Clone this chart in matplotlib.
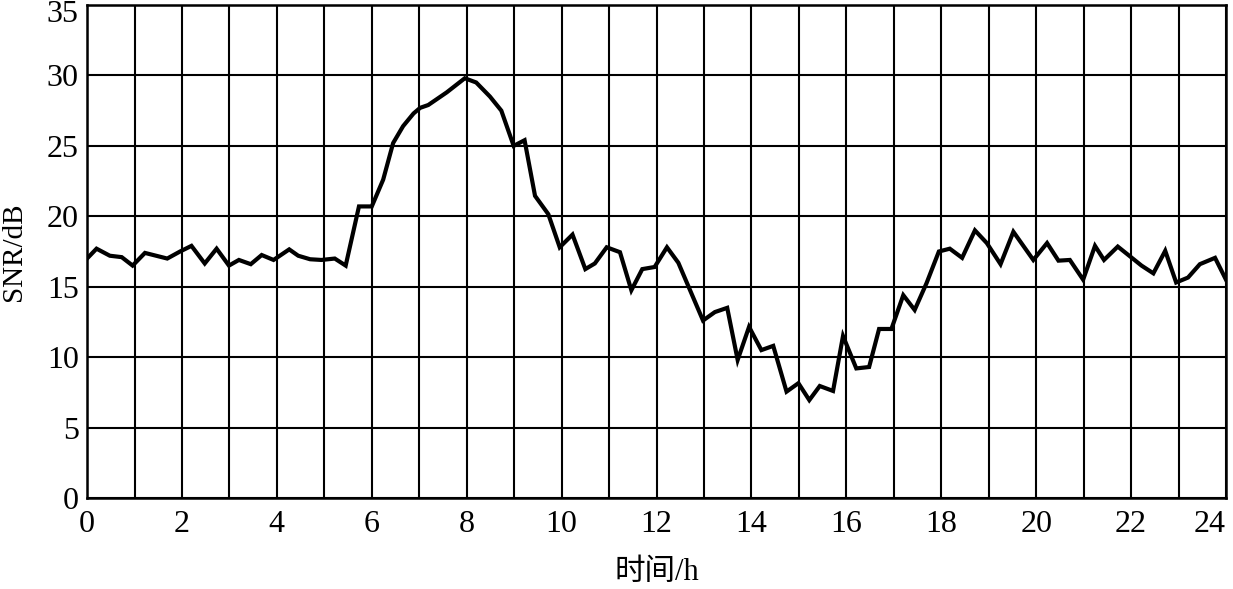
import numpy as np
import matplotlib.pyplot as plt
import matplotlib.transforms as mtransforms
from matplotlib.ticker import MultipleLocator

# vertices (hour, dB)
hours = [0.0, 0.20, 0.48, 0.73, 0.96, 1.22, 1.69, 1.96, 2.20, 2.48, 2.73, 2.99,
         3.20, 3.45, 3.68, 3.93, 4.26, 4.45, 4.70, 4.94, 5.22, 5.45, 5.73, 6.00,
         6.24, 6.45, 6.66, 6.88, 7.02, 7.19, 7.58, 7.96, 8.20, 8.49, 8.73, 8.99,
         9.22, 9.44, 9.72, 9.96, 10.23, 10.50, 10.70, 10.95, 11.23, 11.47, 11.70,
         11.96, 12.22, 12.46, 12.98, 13.23, 13.49, 13.71, 13.95, 14.21, 14.46,
         14.74, 14.99, 15.22, 15.44, 15.72, 15.93, 16.21, 16.48, 16.69, 16.95,
         17.20, 17.44, 17.69, 17.95, 18.18, 18.44, 18.71, 18.96, 19.25, 19.52,
         19.94, 20.23, 20.47, 20.71, 20.99, 21.24, 21.43, 21.72, 21.98, 22.22,
         22.47, 22.72, 22.95, 23.20, 23.45, 23.77, 24.0]
snr = [17.0, 17.7, 17.2, 17.1, 16.5, 17.4, 17.0, 17.5, 17.9, 16.65, 17.7, 16.5,
       16.9, 16.6, 17.25, 16.9, 17.65, 17.2, 16.95, 16.9, 17.0, 16.5, 20.7, 20.7,
       22.6, 25.2, 26.4, 27.3, 27.7, 27.9, 28.8, 29.8, 29.5, 28.5, 27.5, 25.0,
       25.4, 21.45, 20.15, 17.8, 18.7, 16.25, 16.65, 17.8, 17.45, 14.75, 16.25,
       16.4, 17.8, 16.7, 12.6, 13.2, 13.5, 9.8, 12.15, 10.5, 10.8,
       7.55, 8.15, 6.95, 7.95, 7.6, 11.5, 9.2, 9.3, 12.0, 12.0,
       14.4, 13.35, 15.25, 17.5, 17.7, 17.05, 19.0, 18.1, 16.6, 18.9,
       16.9, 18.1, 16.85, 16.9, 15.5, 17.9, 16.9, 17.85, 17.15, 16.5,
       15.95, 17.55, 15.3, 15.65, 16.6, 17.05, 15.5]
xticks = list(range(0, 25, 2))
yticks = list(range(0, 36, 5))

plt.rcParams['font.family'] = ['Liberation Serif', 'Noto Sans CJK SC']

fig = plt.figure(figsize=(12.33, 5.89), dpi=100)
ax = fig.add_axes([0.0706, 0.1545, 0.9237, 0.837])

ax.plot(hours, snr, color='black', linewidth=3.0, solid_joinstyle='miter')

ax.set_xlim(0, 24)
ax.set_ylim(0, 35)
ax.set_xticks(xticks)
ax.set_xticklabels([str(t) for t in xticks])
ax.set_yticks(yticks)
ax.set_yticklabels([str(t) for t in yticks])
ax.xaxis.set_minor_locator(MultipleLocator(1))
ax.grid(True, which='both', axis='x', color='black', linewidth=1.5)
ax.grid(True, which='major', axis='y', color='black', linewidth=1.5)
ax.tick_params(which='both', length=0, labelsize=23)
ax.tick_params(axis='x', pad=9)
ax.tick_params(axis='y', pad=6)
ax.get_xticklabels()[-1].set_horizontalalignment('right')
# top label sits a little lower so it stays inside the figure
top = ax.get_yticklabels()[-1]
top.set_transform(top.get_transform() +
                  mtransforms.ScaledTranslation(0, -6 / 100, fig.dpi_scale_trans))
for s in ax.spines.values():
    s.set_linewidth(1.8)

ax.set_xlabel('时间/h', fontsize=22)
ax.set_ylabel('SNR/dB', fontsize=21)
ax.xaxis.set_label_coords(0.5, -0.121)
ax.yaxis.set_label_coords(-0.053, 0.5)

fig.savefig('out.png', dpi=100)
